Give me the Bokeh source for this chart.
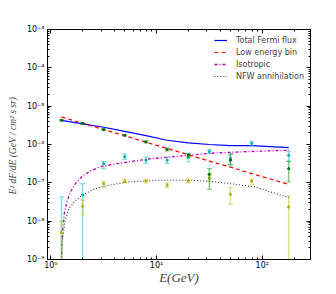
from bokeh.plotting import figure
from bokeh.models import LogAxis, FixedTicker, CustomJSTickFormatter, Range1d
from bokeh.embed import file_html
from bokeh.resources import INLINE

# ---------------- data ----------------
E_curve = [1.26, 2.0, 3.16, 5.0, 7.94, 12.6, 20.0, 31.6, 50.0, 79.4, 178.0]
total_flux = [4.27e-6, 3.47e-6, 2.82e-6, 2.19e-6, 1.70e-6, 1.29e-6, 1.10e-6, 1.0e-6, 9.3e-7, 9.3e-7, 8.3e-7]
low_energy = [5.25e-6, 3.55e-6, 2.45e-6, 1.7e-6, 1.15e-6, 7.9e-7, 5.4e-7, 3.7e-7, 2.57e-7, 1.74e-7, 9.1e-8]

E_iso = [1.25, 1.27, 1.30, 1.34, 1.42, 1.53, 1.71, 1.97, 2.37, 2.94, 4.2, 8.4, 17.0, 35.0, 70.0, 180.0]
isotropic = [3.2e-10, 2.5e-9, 7.1e-9, 1.6e-8, 3.2e-8, 5.8e-8, 9.5e-8, 1.48e-7, 2.04e-7, 2.63e-7,
             3.16e-7, 4.2e-7, 5.0e-7, 6.0e-7, 6.5e-7, 7.1e-7]

E_nfw = [1.26, 1.28, 1.32, 1.37, 1.5, 1.7, 2.0, 2.55, 3.4, 5.3, 10.0, 21.0, 32.0, 50.0, 83.0, 180.0]
nfw = [3.2e-10, 2.5e-9, 5e-9, 1.12e-8, 2.24e-8, 3.4e-8, 4.8e-8, 6.8e-8, 8.5e-8, 1.05e-7,
       1.17e-7, 1.17e-7, 1.1e-7, 9.5e-8, 7.9e-8, 4.1e-8]

E_green = [1.26, 2.0, 3.16, 5.0, 7.94, 12.6, 20.0, 31.6, 50.0, 178.0]
green_val = [4.27e-6, 3.55e-6, 2.45e-6, 1.74e-6, 1.17e-6, 7.4e-7, 5.25e-7, 1.66e-7, 3.9e-7, 2.34e-7]
green_lo = [4.1e-6, 3.4e-6, 2.35e-6, 1.66e-6, 1.1e-6, 6.8e-7, 4.7e-7, 6.8e-8, 3.0e-7, 1.05e-7]
green_hi = [4.45e-6, 3.7e-6, 2.55e-6, 1.82e-6, 1.24e-6, 8.0e-7, 5.8e-7, 2.34e-7, 5.5e-7, 3.6e-7]

E_bins = [1.26, 2.0, 3.16, 5.0, 7.94, 12.6, 20.0, 31.6, 50.0, 79.4, 178.0]
cyan_val = [5e-10, 4.8e-8, 3.16e-7, 4.8e-7, 3.9e-7, 3.9e-7, 4.6e-7, 6.6e-7, 4.3e-7, 1.07e-6, 5.2e-7]
cyan_lo = [1e-10, 1e-10, 2.35e-7, 4.1e-7, 3.2e-7, 3.2e-7, 3.55e-7, 5.9e-7, 2.9e-7, 9.3e-7, 3.7e-7]
cyan_hi = [4.3e-8, 9.5e-8, 3.6e-7, 5.6e-7, 4.7e-7, 4.7e-7, 5.8e-7, 7.2e-7, 5.8e-7, 1.2e-6, 6.5e-7]

yellow_val = [5e-9, 2.45e-8, 9.5e-8, 1.1e-7, 1.12e-7, 8.7e-8, 1.12e-7, 1.32e-7, 5e-8, 1.1e-7, 2.35e-8]
yellow_lo = [1e-10, 1.45e-8, 7.6e-8, 1e-7, 1e-7, 7.4e-8, 1e-7, 1.05e-7, 2.75e-8, 9.1e-8, 1e-10]
yellow_hi = [1e-8, 3.55e-8, 1.07e-7, 1.23e-7, 1.23e-7, 1e-7, 1.26e-7, 1.66e-7, 7.6e-8, 1.26e-7, 4.6e-8]

y_ticks = [1e-9, 1e-8, 1e-7, 1e-6, 1e-5, 1e-4, 1e-3]
x_ticks = [1.0, 10.0, 100.0]

# ---------------- figure ----------------
p = figure(frame_width=263, frame_height=230, x_axis_type="log", y_axis_type="log",
           x_range=Range1d(0.93, 286), y_range=Range1d(1e-9, 1e-3),
           output_backend="svg", toolbar_location=None,
           min_border_left=47, min_border_right=20, min_border_top=29, min_border_bottom=30)
p.grid.visible = False
p.outline_line_color = "black"
p.background_fill_color = "white"

x_axis = p.below[0]
y_axis = p.left[0]

x_minor = [k * d for d in [0.1, 1, 10, 100] for k in range(2, 10)]
y_minor = [k * d for d in [1e-10, 1e-9, 1e-8, 1e-7, 1e-6, 1e-5, 1e-4] for k in range(2, 10)]

sup_code = """
const sup = {'-':'\u207b','0':'\u2070','1':'\u00b9','2':'\u00b2','3':'\u00b3','4':'\u2074',
             '5':'\u2075','6':'\u2076','7':'\u2077','8':'\u2078','9':'\u2079'};
const e = Math.round(Math.log10(tick));
return '10' + String(e).split('').map(c => sup[c]).join('');
"""

def style_axis(ax, ticks, minor, labels=True):
    ax.ticker = FixedTicker(ticks=ticks, minor_ticks=minor)
    ax.formatter = CustomJSTickFormatter(code=sup_code if labels else "return '';")
    ax.major_tick_in = 4
    ax.major_tick_out = 0
    ax.minor_tick_in = 2
    ax.minor_tick_out = 0
    ax.axis_line_color = "black"
    ax.major_tick_line_color = "black"
    ax.minor_tick_line_color = "black"
    ax.major_label_text_font = "DejaVu Sans"
    ax.major_label_text_font_size = "8px" if labels else "0px"
    ax.major_label_text_color = "black"
    ax.major_label_standoff = 3 if labels else 0

style_axis(x_axis, x_ticks, x_minor)
style_axis(y_axis, y_ticks, y_minor)
x_axis.major_label_standoff = 1

right_ax = LogAxis()
style_axis(right_ax, y_ticks, y_minor, labels=False)
p.add_layout(right_ax, "right")
top_ax = LogAxis()
style_axis(top_ax, x_ticks, x_minor, labels=False)
p.add_layout(top_ax, "above")

x_axis.axis_label = "E(GeV)"
x_axis.axis_label_text_font = "Liberation Serif"
x_axis.axis_label_text_font_style = "italic"
x_axis.axis_label_text_font_size = "13px"
x_axis.axis_label_standoff = -3
y_axis.axis_label = "E\u00b2 dF/dE  (GeV / cm\u00b2 s sr)"
y_axis.axis_label_text_font = "Liberation Serif"
y_axis.axis_label_text_font_style = "italic"
y_axis.axis_label_text_font_size = "9.5px"
y_axis.axis_label_standoff = 6

# ---------------- curves ----------------
p.line(E_curve, total_flux, line_color="#0000ff", line_width=1.2, legend_label="Total Fermi flux")
p.line(E_curve, low_energy, line_color="#ff0000", line_width=1.2, line_dash="4 3",
       legend_label="Low energy bin")
p.line(E_iso, isotropic, line_color="#bf00bf", line_width=1.3, line_dash="3 2 1 2",
       legend_label="Isotropic")
p.line(E_nfw, nfw, line_color="#333333", line_width=1.1, line_dash="1 2",
       legend_label="NFW annihilation")

# ---------------- data with error bars ----------------
def errbars(xs, val, lo, hi, bar_color, pt_color):
    p.segment(x0=xs, y0=lo, x1=xs, y1=hi, line_color=bar_color, line_width=1.6, line_alpha=0.45)
    p.scatter(xs, lo, marker="dash", size=5, line_color=bar_color, line_alpha=0.45, line_width=1.2)
    p.scatter(xs, hi, marker="dash", size=5, line_color=bar_color, line_alpha=0.45, line_width=1.2)
    p.scatter(xs, val, marker="circle", size=2.2, fill_color=pt_color, line_color=pt_color)

errbars(E_bins, cyan_val, cyan_lo, cyan_hi, "#00bfbf", "#00b0b0")
errbars(E_bins, yellow_val, yellow_lo, yellow_hi, "#bfbf00", "#b0b000")
errbars(E_green, green_val, green_lo, green_hi, "#008000", "#007000")

# ---------------- legend ----------------
lg = p.legend[0]
lg.location = "top_right"
lg.border_line_color = None
lg.background_fill_alpha = 0
lg.label_text_font = "DejaVu Sans"
lg.label_text_font_size = "8px"
lg.glyph_width = 13
lg.glyph_height = 10
lg.label_height = 10
lg.spacing = 2
lg.padding = 3
lg.margin = 6
lg.label_standoff = 9

open("out.html", "w").write(file_html(p, INLINE))
